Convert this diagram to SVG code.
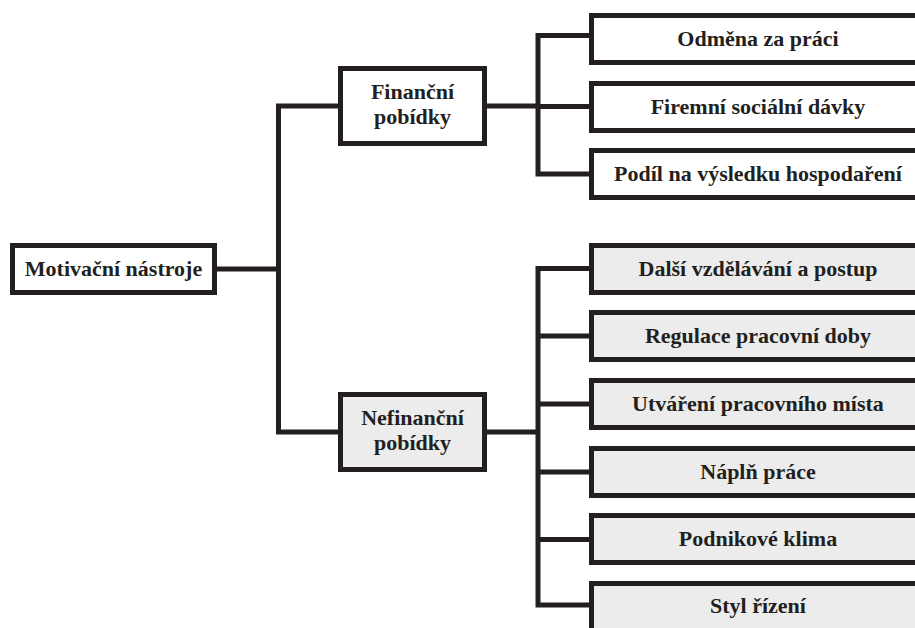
<svg xmlns="http://www.w3.org/2000/svg" width="915" height="628" viewBox="0 0 915 628">
<style>
.box{stroke:#231f20;stroke-width:5;fill:#ffffff}
.gray{fill:#ececec}
.t{font-family:"Liberation Serif","Times New Roman",serif;font-weight:bold;font-size:22px;fill:#231f20;text-anchor:middle}
.c{fill:none;stroke:#231f20;stroke-width:5;stroke-linejoin:miter;stroke-linecap:butt}
</style>
<rect width="915" height="628" fill="#ffffff"/>
<g id="connectors">
<path class="c" d="M217 269 H278.5"/>
<path class="c" d="M338 106 H278.5 V432 H338"/>
<path class="c" d="M487 106 H538"/>
<path class="c" d="M591 35.5 H538 V174 H591"/>
<path class="c" d="M538 106.5 H591"/>
<path class="c" d="M487 432 H538"/>
<path class="c" d="M591 268.5 H538 V605 H591"/>
<path class="c" d="M538 336 H591"/>
<path class="c" d="M538 404 H591"/>
<path class="c" d="M538 472 H591"/>
<path class="c" d="M538 539.5 H591"/>
</g>
<g id="root">
<rect class="box" x="12.5" y="245.5" width="202" height="47"/>
<text class="t" x="113.5" y="276">Motivační nástroje</text>
</g>
<g id="financni">
<rect class="box" x="340.5" y="68.5" width="144" height="75"/>
<text class="t" x="412.5" y="99">Finanční</text>
<text class="t" x="412.5" y="124">pobídky</text>
</g>
<g id="nefinancni">
<rect class="box gray" x="340.5" y="394.5" width="144" height="75"/>
<text class="t" x="412.5" y="425">Nefinanční</text>
<text class="t" x="412.5" y="450">pobídky</text>
</g>
<g id="odmena">
<rect class="box" x="591.5" y="15.5" width="340" height="47"/>
<text class="t" x="758" y="46">Odměna za práci</text>
</g>
<g id="davky">
<rect class="box" x="591.5" y="83.5" width="340" height="47"/>
<text class="t" x="758" y="114">Firemní sociální dávky</text>
</g>
<g id="podil">
<rect class="box" x="591.5" y="150.5" width="340" height="47"/>
<text class="t" x="758" y="181">Podíl na výsledku hospodaření</text>
</g>
<g id="vzdelavani">
<rect class="box gray" x="591.5" y="245.5" width="340" height="47"/>
<text class="t" x="758" y="276">Další vzdělávání a postup</text>
</g>
<g id="regulace">
<rect class="box gray" x="591.5" y="312.5" width="340" height="47"/>
<text class="t" x="758" y="343">Regulace pracovní doby</text>
</g>
<g id="misto">
<rect class="box gray" x="591.5" y="380.5" width="340" height="47"/>
<text class="t" x="758" y="411">Utváření pracovního místa</text>
</g>
<g id="napln">
<rect class="box gray" x="591.5" y="448.5" width="340" height="47"/>
<text class="t" x="758" y="479">Náplň práce</text>
</g>
<g id="klima">
<rect class="box gray" x="591.5" y="515.5" width="340" height="47"/>
<text class="t" x="758" y="546">Podnikové klima</text>
</g>
<g id="styl">
<rect class="box gray" x="591.5" y="583.5" width="340" height="47"/>
<text class="t" x="758" y="613">Styl řízení</text>
</g>
</svg>
